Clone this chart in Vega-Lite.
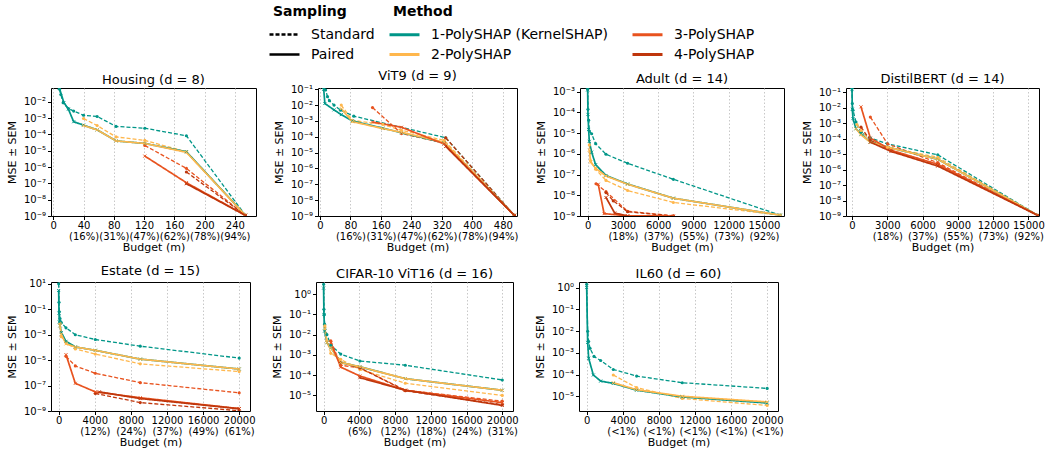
{
"$schema":"https://vega.github.io/schema/vega-lite/v6.json",
"padding":{"left":5,"top":5,"right":0,"bottom":0},
"data":{"values":[
{"p":"H","m":"1","s":"S","x":8,"y":0.06},{"p":"H","m":"1","s":"S","x":10,"y":0.028},{"p":"H","m":"1","s":"S","x":13,"y":0.0087},{"p":"H","m":"1","s":"S","x":20,"y":0.0039},{"p":"H","m":"1","s":"S","x":27,"y":0.0027},{"p":"H","m":"1","s":"S","x":40,"y":0.0015},{"p":"H","m":"1","s":"S","x":58,"y":0.00126},{"p":"H","m":"1","s":"S","x":83,"y":3.1e-4},{"p":"H","m":"1","s":"S","x":121,"y":2.4e-4},{"p":"H","m":"1","s":"S","x":176,"y":8.3e-5},{"p":"H","m":"1","s":"S","x":254,"y":1.1e-9},
{"p":"H","m":"1","s":"P","x":8,"y":0.07},{"p":"H","m":"1","s":"P","x":14,"y":0.009},{"p":"H","m":"1","s":"P","x":20,"y":0.0035},{"p":"H","m":"1","s":"P","x":27,"y":6e-4},{"p":"H","m":"1","s":"P","x":40,"y":3.7e-4},{"p":"H","m":"1","s":"P","x":58,"y":1.9e-4},{"p":"H","m":"1","s":"P","x":83,"y":4e-5},{"p":"H","m":"1","s":"P","x":121,"y":2.8e-5},{"p":"H","m":"1","s":"P","x":176,"y":8.7e-6},{"p":"H","m":"1","s":"P","x":254,"y":1.1e-9},
{"p":"H","m":"2","s":"S","x":40,"y":9.5e-4},{"p":"H","m":"2","s":"S","x":58,"y":3.5e-4},{"p":"H","m":"2","s":"S","x":83,"y":7e-5},{"p":"H","m":"2","s":"S","x":121,"y":4.3e-5},{"p":"H","m":"2","s":"S","x":176,"y":8.7e-6},{"p":"H","m":"2","s":"S","x":254,"y":1.1e-9},
{"p":"H","m":"2","s":"P","x":40,"y":3.5e-4},{"p":"H","m":"2","s":"P","x":58,"y":1.9e-4},{"p":"H","m":"2","s":"P","x":83,"y":4e-5},{"p":"H","m":"2","s":"P","x":121,"y":2.8e-5},{"p":"H","m":"2","s":"P","x":176,"y":8e-6},{"p":"H","m":"2","s":"P","x":254,"y":1.1e-9},
{"p":"H","m":"3","s":"S","x":121,"y":2.1e-5},{"p":"H","m":"3","s":"S","x":176,"y":8.3e-7},{"p":"H","m":"3","s":"S","x":254,"y":1.1e-9},
{"p":"H","m":"3","s":"P","x":121,"y":4.7e-6},{"p":"H","m":"3","s":"P","x":176,"y":1.1e-7},{"p":"H","m":"3","s":"P","x":254,"y":1.1e-9},
{"p":"H","m":"4","s":"S","x":176,"y":5e-7},{"p":"H","m":"4","s":"S","x":254,"y":1.1e-9},
{"p":"H","m":"4","s":"P","x":176,"y":9.5e-8},{"p":"H","m":"4","s":"P","x":254,"y":1.1e-9},

{"p":"V","m":"1","s":"S","x":10,"y":0.12},{"p":"V","m":"1","s":"S","x":15,"y":0.09},{"p":"V","m":"1","s":"S","x":20,"y":0.034},{"p":"V","m":"1","s":"S","x":25,"y":0.019},{"p":"V","m":"1","s":"S","x":37,"y":0.01},{"p":"V","m":"1","s":"S","x":54,"y":0.0048},{"p":"V","m":"1","s":"S","x":89,"y":0.002},{"p":"V","m":"1","s":"S","x":330,"y":8.7e-5},{"p":"V","m":"1","s":"S","x":510,"y":1.1e-9},
{"p":"V","m":"1","s":"P","x":10,"y":0.1},{"p":"V","m":"1","s":"P","x":13,"y":0.0126},{"p":"V","m":"1","s":"P","x":37,"y":0.005},{"p":"V","m":"1","s":"P","x":56,"y":0.0025},{"p":"V","m":"1","s":"P","x":85,"y":1.0e-3},{"p":"V","m":"1","s":"P","x":165,"y":3.5e-4},{"p":"V","m":"1","s":"P","x":214,"y":1.8e-4},{"p":"V","m":"1","s":"P","x":326,"y":4.2e-5},{"p":"V","m":"1","s":"P","x":510,"y":1.1e-9},
{"p":"V","m":"2","s":"S","x":56,"y":0.01},{"p":"V","m":"2","s":"S","x":85,"y":1.1e-3},{"p":"V","m":"2","s":"S","x":165,"y":6e-4},{"p":"V","m":"2","s":"S","x":214,"y":2.6e-4},{"p":"V","m":"2","s":"S","x":326,"y":5.9e-5},{"p":"V","m":"2","s":"S","x":510,"y":1.1e-9},
{"p":"V","m":"2","s":"P","x":56,"y":0.006},{"p":"V","m":"2","s":"P","x":85,"y":9e-4},{"p":"V","m":"2","s":"P","x":165,"y":3.3e-4},{"p":"V","m":"2","s":"P","x":214,"y":1.9e-4},{"p":"V","m":"2","s":"P","x":326,"y":4.5e-5},{"p":"V","m":"2","s":"P","x":510,"y":1.1e-9},
{"p":"V","m":"3","s":"S","x":138,"y":7e-3},{"p":"V","m":"3","s":"S","x":214,"y":1.6e-4},{"p":"V","m":"3","s":"S","x":326,"y":4e-5},{"p":"V","m":"3","s":"S","x":510,"y":1.1e-9},
{"p":"V","m":"3","s":"P","x":138,"y":8.5e-4},{"p":"V","m":"3","s":"P","x":214,"y":4e-4},{"p":"V","m":"3","s":"P","x":326,"y":3.5e-5},{"p":"V","m":"3","s":"P","x":510,"y":1.1e-9},
{"p":"V","m":"4","s":"S","x":330,"y":8.7e-5},{"p":"V","m":"4","s":"S","x":510,"y":1.1e-9},
{"p":"V","m":"4","s":"P","x":330,"y":2.5e-5},{"p":"V","m":"4","s":"P","x":510,"y":1.1e-9},

{"p":"A","m":"1","s":"S","x":0,"y":1.3e-3},{"p":"A","m":"1","s":"S","x":28,"y":1.4e-4},{"p":"A","m":"1","s":"S","x":85,"y":4.2e-5},{"p":"A","m":"1","s":"S","x":142,"y":1.25e-5},{"p":"A","m":"1","s":"S","x":340,"y":9.3e-6},{"p":"A","m":"1","s":"S","x":680,"y":3.1e-6},{"p":"A","m":"1","s":"S","x":1560,"y":9.5e-7},{"p":"A","m":"1","s":"S","x":3400,"y":3.5e-7},{"p":"A","m":"1","s":"S","x":7290,"y":5.9e-8},{"p":"A","m":"1","s":"S","x":16382,"y":1.1e-9},
{"p":"A","m":"1","s":"P","x":0,"y":1.2e-3},{"p":"A","m":"1","s":"P","x":28,"y":8e-5},{"p":"A","m":"1","s":"P","x":85,"y":1.5e-5},{"p":"A","m":"1","s":"P","x":142,"y":4e-6},{"p":"A","m":"1","s":"P","x":340,"y":1.2e-6},{"p":"A","m":"1","s":"P","x":680,"y":3e-7},{"p":"A","m":"1","s":"P","x":1560,"y":9e-8},{"p":"A","m":"1","s":"P","x":3400,"y":3.5e-8},{"p":"A","m":"1","s":"P","x":7290,"y":7.2e-9},{"p":"A","m":"1","s":"P","x":16382,"y":1.1e-9},
{"p":"A","m":"2","s":"S","x":142,"y":2.7e-6},{"p":"A","m":"2","s":"S","x":255,"y":4.6e-7},{"p":"A","m":"2","s":"S","x":680,"y":1.8e-7},{"p":"A","m":"2","s":"S","x":1560,"y":5.2e-8},{"p":"A","m":"2","s":"S","x":3400,"y":1.7e-8},{"p":"A","m":"2","s":"S","x":7290,"y":4.5e-9},{"p":"A","m":"2","s":"S","x":16382,"y":1.1e-9},
{"p":"A","m":"2","s":"P","x":142,"y":1.5e-6},{"p":"A","m":"2","s":"P","x":255,"y":4e-7},{"p":"A","m":"2","s":"P","x":680,"y":2e-7},{"p":"A","m":"2","s":"P","x":1560,"y":8.5e-8},{"p":"A","m":"2","s":"P","x":3400,"y":3.4e-8},{"p":"A","m":"2","s":"P","x":7290,"y":7.2e-9},{"p":"A","m":"2","s":"P","x":16382,"y":1.1e-9},
{"p":"A","m":"3","s":"S","x":710,"y":3.6e-8},{"p":"A","m":"3","s":"S","x":1560,"y":1.5e-8},{"p":"A","m":"3","s":"S","x":3400,"y":1.7e-9},{"p":"A","m":"3","s":"S","x":7290,"y":1.02e-9},
{"p":"A","m":"3","s":"P","x":900,"y":3.4e-8},{"p":"A","m":"3","s":"P","x":1400,"y":1.3e-9},{"p":"A","m":"3","s":"P","x":3400,"y":1.02e-9},{"p":"A","m":"3","s":"P","x":7290,"y":1.0e-9},
{"p":"A","m":"4","s":"S","x":1560,"y":1.35e-8},{"p":"A","m":"4","s":"S","x":2180,"y":5.4e-9},{"p":"A","m":"4","s":"S","x":3400,"y":1.6e-9},{"p":"A","m":"4","s":"S","x":7290,"y":1.0e-9},
{"p":"A","m":"4","s":"P","x":1560,"y":7.8e-9},{"p":"A","m":"4","s":"P","x":2300,"y":1.4e-9},{"p":"A","m":"4","s":"P","x":3400,"y":1.0e-9},

{"p":"B","m":"1","s":"S","x":0,"y":0.18},{"p":"B","m":"1","s":"S","x":28,"y":0.019},{"p":"B","m":"1","s":"S","x":85,"y":6.9e-3},{"p":"B","m":"1","s":"S","x":340,"y":1.2e-3},{"p":"B","m":"1","s":"S","x":765,"y":2.6e-4},{"p":"B","m":"1","s":"S","x":1560,"y":1.1e-4},{"p":"B","m":"1","s":"S","x":3030,"y":4.6e-5},{"p":"B","m":"1","s":"S","x":7290,"y":9.1e-6},{"p":"B","m":"1","s":"S","x":15800,"y":1.1e-9},
{"p":"B","m":"1","s":"P","x":0,"y":0.15},{"p":"B","m":"1","s":"P","x":28,"y":0.008},{"p":"B","m":"1","s":"P","x":85,"y":2e-3},{"p":"B","m":"1","s":"P","x":340,"y":4.4e-4},{"p":"B","m":"1","s":"P","x":765,"y":2e-4},{"p":"B","m":"1","s":"P","x":1560,"y":6e-5},{"p":"B","m":"1","s":"P","x":3320,"y":2.5e-5},{"p":"B","m":"1","s":"P","x":7290,"y":4.7e-6},{"p":"B","m":"1","s":"P","x":15800,"y":1.1e-9},
{"p":"B","m":"2","s":"S","x":425,"y":8.3e-4},{"p":"B","m":"2","s":"S","x":765,"y":3.4e-4},{"p":"B","m":"2","s":"S","x":1560,"y":7.4e-5},{"p":"B","m":"2","s":"S","x":3030,"y":2.8e-5},{"p":"B","m":"2","s":"S","x":7290,"y":6.3e-6},{"p":"B","m":"2","s":"S","x":15800,"y":1.1e-9},
{"p":"B","m":"2","s":"P","x":340,"y":4.4e-4},{"p":"B","m":"2","s":"P","x":765,"y":1.8e-4},{"p":"B","m":"2","s":"P","x":1560,"y":5.9e-5},{"p":"B","m":"2","s":"P","x":3320,"y":2.5e-5},{"p":"B","m":"2","s":"P","x":7290,"y":4.7e-6},{"p":"B","m":"2","s":"P","x":15800,"y":1.1e-9},
{"p":"B","m":"3","s":"S","x":1560,"y":2.5e-3},{"p":"B","m":"3","s":"S","x":3030,"y":4.6e-5},{"p":"B","m":"3","s":"S","x":7290,"y":2.8e-6},{"p":"B","m":"3","s":"S","x":15800,"y":1.1e-9},
{"p":"B","m":"3","s":"P","x":765,"y":0.0115},{"p":"B","m":"3","s":"P","x":1560,"y":1.1e-4},{"p":"B","m":"3","s":"P","x":3320,"y":1.8e-5},{"p":"B","m":"3","s":"P","x":7290,"y":2.2e-6},{"p":"B","m":"3","s":"P","x":15800,"y":1.1e-9},
{"p":"B","m":"4","s":"S","x":765,"y":5.6e-4},{"p":"B","m":"4","s":"S","x":1560,"y":8e-5},{"p":"B","m":"4","s":"S","x":3320,"y":1.7e-5},{"p":"B","m":"4","s":"S","x":7290,"y":2.2e-6},{"p":"B","m":"4","s":"S","x":15800,"y":1.1e-9},
{"p":"B","m":"4","s":"P","x":1560,"y":6e-5},{"p":"B","m":"4","s":"P","x":3320,"y":1.5e-5},{"p":"B","m":"4","s":"P","x":7290,"y":1.7e-6},{"p":"B","m":"4","s":"P","x":15800,"y":1.1e-9},

{"p":"E","m":"1","s":"S","x":0,"y":10},{"p":"E","m":"1","s":"S","x":37,"y":0.35},{"p":"E","m":"1","s":"S","x":74,"y":0.063},{"p":"E","m":"1","s":"S","x":148,"y":0.019},{"p":"E","m":"1","s":"S","x":295,"y":8.9e-3},{"p":"E","m":"1","s":"S","x":810,"y":3.5e-3},{"p":"E","m":"1","s":"S","x":1845,"y":1e-3},{"p":"E","m":"1","s":"S","x":4060,"y":4.2e-4},{"p":"E","m":"1","s":"S","x":9040,"y":1.25e-4},{"p":"E","m":"1","s":"S","x":20000,"y":1.45e-5},
{"p":"E","m":"1","s":"P","x":0,"y":3},{"p":"E","m":"1","s":"P","x":37,"y":0.05},{"p":"E","m":"1","s":"P","x":74,"y":0.01},{"p":"E","m":"1","s":"P","x":148,"y":5e-3},{"p":"E","m":"1","s":"P","x":295,"y":1.5e-3},{"p":"E","m":"1","s":"P","x":810,"y":3e-4},{"p":"E","m":"1","s":"P","x":1845,"y":1.1e-4},{"p":"E","m":"1","s":"P","x":4060,"y":5.9e-5},{"p":"E","m":"1","s":"P","x":9040,"y":1.2e-5},{"p":"E","m":"1","s":"P","x":20000,"y":2e-6},
{"p":"E","m":"2","s":"S","x":148,"y":7.9e-3},{"p":"E","m":"2","s":"S","x":295,"y":6.9e-4},{"p":"E","m":"2","s":"S","x":810,"y":2.6e-4},{"p":"E","m":"2","s":"S","x":1845,"y":7.6e-5},{"p":"E","m":"2","s":"S","x":4060,"y":3e-5},{"p":"E","m":"2","s":"S","x":9040,"y":5.1e-6},{"p":"E","m":"2","s":"S","x":20000,"y":1.26e-6},
{"p":"E","m":"2","s":"P","x":148,"y":5e-3},{"p":"E","m":"2","s":"P","x":295,"y":1e-3},{"p":"E","m":"2","s":"P","x":810,"y":1.9e-4},{"p":"E","m":"2","s":"P","x":1845,"y":1.1e-4},{"p":"E","m":"2","s":"P","x":4060,"y":5.9e-5},{"p":"E","m":"2","s":"P","x":9040,"y":1.2e-5},{"p":"E","m":"2","s":"P","x":20000,"y":2e-6},
{"p":"E","m":"3","s":"S","x":810,"y":2e-5},{"p":"E","m":"3","s":"S","x":1845,"y":3.5e-6},{"p":"E","m":"3","s":"S","x":4060,"y":9.3e-7},{"p":"E","m":"3","s":"S","x":9040,"y":1.7e-7},{"p":"E","m":"3","s":"S","x":20000,"y":2.7e-8},
{"p":"E","m":"3","s":"P","x":810,"y":2.7e-5},{"p":"E","m":"3","s":"P","x":1845,"y":1.5e-7},{"p":"E","m":"3","s":"P","x":4060,"y":3.2e-8},{"p":"E","m":"3","s":"P","x":9040,"y":1.1e-8},{"p":"E","m":"3","s":"P","x":20000,"y":1.55e-9},
{"p":"E","m":"4","s":"S","x":4060,"y":2.4e-8},{"p":"E","m":"4","s":"S","x":9040,"y":4.6e-9},{"p":"E","m":"4","s":"S","x":20000,"y":1.05e-9},
{"p":"E","m":"4","s":"P","x":4500,"y":3.2e-8},{"p":"E","m":"4","s":"P","x":9040,"y":9.5e-9},{"p":"E","m":"4","s":"P","x":20000,"y":1.5e-9},

{"p":"C","m":"1","s":"S","x":0,"y":3.1},{"p":"C","m":"1","s":"S","x":37,"y":0.18},{"p":"C","m":"1","s":"S","x":74,"y":0.1},{"p":"C","m":"1","s":"S","x":110,"y":0.033},{"p":"C","m":"1","s":"S","x":370,"y":0.01},{"p":"C","m":"1","s":"S","x":810,"y":3e-3},{"p":"C","m":"1","s":"S","x":1920,"y":1.1e-3},{"p":"C","m":"1","s":"S","x":4060,"y":5e-4},{"p":"C","m":"1","s":"S","x":9150,"y":3.1e-4},{"p":"C","m":"1","s":"S","x":20000,"y":5.8e-5},
{"p":"C","m":"1","s":"P","x":0,"y":2},{"p":"C","m":"1","s":"P","x":37,"y":0.1},{"p":"C","m":"1","s":"P","x":110,"y":0.015},{"p":"C","m":"1","s":"P","x":370,"y":4e-3},{"p":"C","m":"1","s":"P","x":810,"y":2.3e-3},{"p":"C","m":"1","s":"P","x":1920,"y":4.2e-4},{"p":"C","m":"1","s":"P","x":4060,"y":2.6e-4},{"p":"C","m":"1","s":"P","x":9150,"y":6.7e-5},{"p":"C","m":"1","s":"P","x":20000,"y":1.8e-5},
{"p":"C","m":"2","s":"S","x":148,"y":0.027},{"p":"C","m":"2","s":"S","x":370,"y":4.9e-3},{"p":"C","m":"2","s":"S","x":810,"y":1.2e-3},{"p":"C","m":"2","s":"S","x":1920,"y":6e-4},{"p":"C","m":"2","s":"S","x":4060,"y":1.9e-4},{"p":"C","m":"2","s":"S","x":9150,"y":4e-5},{"p":"C","m":"2","s":"S","x":20000,"y":1e-5},
{"p":"C","m":"2","s":"P","x":148,"y":0.02},{"p":"C","m":"2","s":"P","x":370,"y":4e-3},{"p":"C","m":"2","s":"P","x":810,"y":2.3e-3},{"p":"C","m":"2","s":"P","x":1920,"y":4.2e-4},{"p":"C","m":"2","s":"P","x":4060,"y":2.6e-4},{"p":"C","m":"2","s":"P","x":9150,"y":6.7e-5},{"p":"C","m":"2","s":"P","x":20000,"y":1.8e-5},
{"p":"C","m":"3","s":"S","x":810,"y":4.9e-3},{"p":"C","m":"3","s":"S","x":1920,"y":3.1e-4},{"p":"C","m":"3","s":"S","x":4060,"y":2.3e-4},{"p":"C","m":"3","s":"S","x":9150,"y":1.8e-5},{"p":"C","m":"3","s":"S","x":20000,"y":5.2e-6},
{"p":"C","m":"3","s":"P","x":810,"y":4e-3},{"p":"C","m":"3","s":"P","x":1920,"y":2.5e-4},{"p":"C","m":"3","s":"P","x":4060,"y":9.1e-5},{"p":"C","m":"3","s":"P","x":9150,"y":1.8e-5},{"p":"C","m":"3","s":"P","x":20000,"y":4.4e-6},
{"p":"C","m":"4","s":"S","x":1920,"y":4.2e-4},{"p":"C","m":"4","s":"S","x":4060,"y":2.3e-4},{"p":"C","m":"4","s":"S","x":9150,"y":1.7e-5},{"p":"C","m":"4","s":"S","x":20000,"y":3.5e-6},
{"p":"C","m":"4","s":"P","x":4060,"y":7.5e-5},{"p":"C","m":"4","s":"P","x":9150,"y":1.8e-5},{"p":"C","m":"4","s":"P","x":20000,"y":3.2e-6},

{"p":"I","m":"1","s":"S","x":0,"y":1.4},{"p":"I","m":"1","s":"S","x":110,"y":9.8e-3},{"p":"I","m":"1","s":"S","x":220,"y":3.3e-3},{"p":"I","m":"1","s":"S","x":370,"y":1.6e-3},{"p":"I","m":"1","s":"S","x":810,"y":6.8e-4},{"p":"I","m":"1","s":"S","x":1550,"y":4.4e-4},{"p":"I","m":"1","s":"S","x":2950,"y":1.7e-4},{"p":"I","m":"1","s":"S","x":5535,"y":8.5e-5},{"p":"I","m":"1","s":"S","x":10590,"y":4.2e-5},{"p":"I","m":"1","s":"S","x":20000,"y":2.3e-5},
{"p":"I","m":"1","s":"P","x":0,"y":1},{"p":"I","m":"1","s":"P","x":110,"y":3e-3},{"p":"I","m":"1","s":"P","x":220,"y":5.6e-4},{"p":"I","m":"1","s":"P","x":740,"y":9.5e-5},{"p":"I","m":"1","s":"P","x":1550,"y":5e-5},{"p":"I","m":"1","s":"P","x":2950,"y":3.9e-5},{"p":"I","m":"1","s":"P","x":5535,"y":1.9e-5},{"p":"I","m":"1","s":"P","x":10590,"y":9.3e-6},{"p":"I","m":"1","s":"P","x":20000,"y":4.9e-6},
{"p":"I","m":"2","s":"S","x":2950,"y":9.5e-5},{"p":"I","m":"2","s":"S","x":5535,"y":2.5e-5},{"p":"I","m":"2","s":"S","x":10590,"y":7.9e-6},{"p":"I","m":"2","s":"S","x":20000,"y":3.8e-6},
{"p":"I","m":"2","s":"P","x":2950,"y":4.2e-5},{"p":"I","m":"2","s":"P","x":5535,"y":2e-5},{"p":"I","m":"2","s":"P","x":10590,"y":1e-5},{"p":"I","m":"2","s":"P","x":20000,"y":5.5e-6}
]},
"config":{
"font":"DejaVu Sans",
"view":{"stroke":"#000","strokeWidth":1},
"axis":{"domain":false,"labelFontSize":10,"titleFontSize":11,"labelColor":"#000","titleColor":"#000","tickColor":"#000","tickSize":3.5,"titleFontWeight":"normal","labelOverlap":false,"labelBound":false},
"axisX":{"grid":true,"gridDash":[1.5,2],"gridColor":"#c8c8c8","labelLineHeight":11,"labelPadding":1,"titlePadding":0,"labelFlush":false},
"axisY":{"grid":false,"labelPadding":2,"titlePadding":6},
"title":{"fontSize":13,"fontWeight":"normal","offset":1,"color":"#000","anchor":"middle"},
"legend":{"labelFontSize":14,"titleFontSize":14,"titleFontWeight":"bold","labelColor":"#000","titleColor":"#000","symbolType":"M-1.5,0L1.5,0","symbolSize":400,"symbolStrokeWidth":3,"labelOffset":15,"rowPadding":1,"columnPadding":18,"titlePadding":4,"labelLimit":300,"titleAnchor":"start"}
},
"resolve":{"scale":{"x":"independent","y":"independent"}},
"spacing":11,
"vconcat":[
{"hconcat":[
{"width":205,"height":128,"title":"Housing (d = 8)","transform":[{"filter":"datum.p=='H'"}],
"encoding":{
"x":{"field":"x","type":"quantitative","scale":{"domain":[-3,268],"nice":false,"zero":false},"axis":{"values":[0,40,80,120,160,200,240],"format":"d","labelExpr":"datum.value==0?'0':[datum.label,['','(16%)','(31%)','(47%)','(62%)','(78%)','(94%)'][datum.value/40]]","title":"Budget (m)"}},
"y":{"field":"y","type":"quantitative","scale":{"type":"log","domain":[1e-9,0.07],"nice":false},"axis":{"values":[1e-9,1e-8,1e-7,1e-6,1e-5,1e-4,1e-3,1e-2],"labelExpr":"'10'+['⁻⁹','⁻⁸','⁻⁷','⁻⁶','⁻⁵','⁻⁴','⁻³','⁻²','⁻¹','⁰','¹'][round(log(datum.value)/LN10)+9]","title":"MSE ± SEM"}},
"color":{"field":"m","type":"nominal","scale":{"domain":["1","3","2","4"],"range":["#009688","#e8531f","#ffb74d","#bf360c"]},"legend":{"title":"Method","columns":2,"direction":"horizontal","orient":"none","legendX":342,"legendY":-83,"symbolType":"M-1.5,0L1.5,0","labelExpr":"datum.label=='1'?'1-PolySHAP (KernelSHAP)':datum.label+'-PolySHAP'"}}},
"layer":[
{"transform":[{"filter":"datum.s=='S'"}],"mark":{"type":"line","clip":true,"strokeWidth":1.3},"encoding":{"strokeDash":{"field":"s","type":"nominal","scale":{"domain":["S","P"],"range":[[4,2],[1,0]]},"legend":{"title":"Sampling","orient":"none","legendX":222,"legendY":-83,"direction":"vertical","symbolType":"M-1.5,0L1.5,0","symbolStrokeColor":"#000","symbolStrokeWidth":2.5,"labelExpr":"datum.label=='S'?'Standard':'Paired'"}}}},
{"transform":[{"filter":"datum.s=='P'"}],"mark":{"type":"line","clip":true,"strokeWidth":1.7},"encoding":{"strokeDash":{"field":"s","type":"nominal","scale":{"domain":["S","P"],"range":[[4,2],[1,0]]}}}},
{"transform":[{"filter":"datum.s=='S'"}],"mark":{"type":"point","shape":"circle","filled":true,"size":10,"clip":true,"opacity":1}},
{"transform":[{"filter":"datum.s=='P'"}],"mark":{"type":"point","shape":"M-1,-1L1,1M-1,1L1,-1","filled":false,"size":9,"strokeWidth":1,"clip":true,"opacity":1}}
]},
{"width":199,"height":128,"title":"ViT9 (d = 9)","transform":[{"filter":"datum.p=='V'"}],
"encoding":{
"x":{"field":"x","type":"quantitative","scale":{"domain":[-5,517],"nice":false,"zero":false},"axis":{"values":[0,80,160,240,320,400,480],"format":"d","labelExpr":"datum.value==0?'0':[datum.label,['','(16%)','(31%)','(47%)','(62%)','(78%)','(94%)'][datum.value/80]]","title":"Budget (m)"}},
"y":{"field":"y","type":"quantitative","scale":{"type":"log","domain":[1e-9,0.12],"nice":false},"axis":{"values":[1e-9,1e-8,1e-7,1e-6,1e-5,1e-4,1e-3,1e-2,1e-1],"labelExpr":"'10'+['⁻⁹','⁻⁸','⁻⁷','⁻⁶','⁻⁵','⁻⁴','⁻³','⁻²','⁻¹','⁰','¹'][round(log(datum.value)/LN10)+9]","title":"MSE ± SEM"}},
"color":{"field":"m","type":"nominal","scale":{"domain":["1","3","2","4"],"range":["#009688","#e8531f","#ffb74d","#bf360c"]},"legend":{"title":"Method","columns":2,"direction":"horizontal","orient":"none","legendX":342,"legendY":-83,"symbolType":"M-1.5,0L1.5,0","labelExpr":"datum.label=='1'?'1-PolySHAP (KernelSHAP)':datum.label+'-PolySHAP'"}}},
"layer":[
{"transform":[{"filter":"datum.s=='S'"}],"mark":{"type":"line","clip":true,"strokeWidth":1.3},"encoding":{"strokeDash":{"field":"s","type":"nominal","scale":{"domain":["S","P"],"range":[[4,2],[1,0]]},"legend":{"title":"Sampling","orient":"none","legendX":222,"legendY":-83,"direction":"vertical","symbolType":"M-1.5,0L1.5,0","symbolStrokeColor":"#000","symbolStrokeWidth":2.5,"labelExpr":"datum.label=='S'?'Standard':'Paired'"}}}},
{"transform":[{"filter":"datum.s=='P'"}],"mark":{"type":"line","clip":true,"strokeWidth":1.7},"encoding":{"strokeDash":{"field":"s","type":"nominal","scale":{"domain":["S","P"],"range":[[4,2],[1,0]]}}}},
{"transform":[{"filter":"datum.s=='S'"}],"mark":{"type":"point","shape":"circle","filled":true,"size":10,"clip":true,"opacity":1}},
{"transform":[{"filter":"datum.s=='P'"}],"mark":{"type":"point","shape":"M-1,-1L1,1M-1,1L1,-1","filled":false,"size":9,"strokeWidth":1,"clip":true,"opacity":1}}
]},
{"width":204,"height":128,"title":"Adult (d = 14)","transform":[{"filter":"datum.p=='A'"}],
"encoding":{
"x":{"field":"x","type":"quantitative","scale":{"domain":[-650,16700],"nice":false,"zero":false},"axis":{"values":[0,3000,6000,9000,12000,15000],"format":"d","labelExpr":"datum.value==0?'0':[datum.label,['','(18%)','(37%)','(55%)','(73%)','(92%)'][datum.value/3000]]","title":"Budget (m)"}},
"y":{"field":"y","type":"quantitative","scale":{"type":"log","domain":[1e-9,1.5e-3],"nice":false},"axis":{"values":[1e-9,1e-8,1e-7,1e-6,1e-5,1e-4,1e-3],"labelExpr":"'10'+['⁻⁹','⁻⁸','⁻⁷','⁻⁶','⁻⁵','⁻⁴','⁻³','⁻²','⁻¹','⁰','¹'][round(log(datum.value)/LN10)+9]","title":"MSE ± SEM"}},
"color":{"field":"m","type":"nominal","scale":{"domain":["1","3","2","4"],"range":["#009688","#e8531f","#ffb74d","#bf360c"]},"legend":{"title":"Method","columns":2,"direction":"horizontal","orient":"none","legendX":342,"legendY":-83,"symbolType":"M-1.5,0L1.5,0","labelExpr":"datum.label=='1'?'1-PolySHAP (KernelSHAP)':datum.label+'-PolySHAP'"}}},
"layer":[
{"transform":[{"filter":"datum.s=='S'"}],"mark":{"type":"line","clip":true,"strokeWidth":1.3},"encoding":{"strokeDash":{"field":"s","type":"nominal","scale":{"domain":["S","P"],"range":[[4,2],[1,0]]},"legend":{"title":"Sampling","orient":"none","legendX":222,"legendY":-83,"direction":"vertical","symbolType":"M-1.5,0L1.5,0","symbolStrokeColor":"#000","symbolStrokeWidth":2.5,"labelExpr":"datum.label=='S'?'Standard':'Paired'"}}}},
{"transform":[{"filter":"datum.s=='P'"}],"mark":{"type":"line","clip":true,"strokeWidth":1.7},"encoding":{"strokeDash":{"field":"s","type":"nominal","scale":{"domain":["S","P"],"range":[[4,2],[1,0]]}}}},
{"transform":[{"filter":"datum.s=='S'"}],"mark":{"type":"point","shape":"circle","filled":true,"size":10,"clip":true,"opacity":1}},
{"transform":[{"filter":"datum.s=='P'"}],"mark":{"type":"point","shape":"M-1,-1L1,1M-1,1L1,-1","filled":false,"size":9,"strokeWidth":1,"clip":true,"opacity":1}}
]},
{"width":193,"height":128,"title":"DistilBERT (d = 14)","transform":[{"filter":"datum.p=='B'"}],
"encoding":{
"x":{"field":"x","type":"quantitative","scale":{"domain":[-510,15900],"nice":false,"zero":false},"axis":{"values":[0,3000,6000,9000,12000,15000],"format":"d","labelExpr":"datum.value==0?'0':[datum.label,['','(18%)','(37%)','(55%)','(73%)','(92%)'][datum.value/3000]]","title":"Budget (m)"}},
"y":{"field":"y","type":"quantitative","scale":{"type":"log","domain":[1e-9,0.19],"nice":false},"axis":{"values":[1e-9,1e-8,1e-7,1e-6,1e-5,1e-4,1e-3,1e-2,1e-1],"labelExpr":"'10'+['⁻⁹','⁻⁸','⁻⁷','⁻⁶','⁻⁵','⁻⁴','⁻³','⁻²','⁻¹','⁰','¹'][round(log(datum.value)/LN10)+9]","title":"MSE ± SEM"}},
"color":{"field":"m","type":"nominal","scale":{"domain":["1","3","2","4"],"range":["#009688","#e8531f","#ffb74d","#bf360c"]},"legend":{"title":"Method","columns":2,"direction":"horizontal","orient":"none","legendX":342,"legendY":-83,"symbolType":"M-1.5,0L1.5,0","labelExpr":"datum.label=='1'?'1-PolySHAP (KernelSHAP)':datum.label+'-PolySHAP'"}}},
"layer":[
{"transform":[{"filter":"datum.s=='S'"}],"mark":{"type":"line","clip":true,"strokeWidth":1.3},"encoding":{"strokeDash":{"field":"s","type":"nominal","scale":{"domain":["S","P"],"range":[[4,2],[1,0]]},"legend":{"title":"Sampling","orient":"none","legendX":222,"legendY":-83,"direction":"vertical","symbolType":"M-1.5,0L1.5,0","symbolStrokeColor":"#000","symbolStrokeWidth":2.5,"labelExpr":"datum.label=='S'?'Standard':'Paired'"}}}},
{"transform":[{"filter":"datum.s=='P'"}],"mark":{"type":"line","clip":true,"strokeWidth":1.7},"encoding":{"strokeDash":{"field":"s","type":"nominal","scale":{"domain":["S","P"],"range":[[4,2],[1,0]]}}}},
{"transform":[{"filter":"datum.s=='S'"}],"mark":{"type":"point","shape":"circle","filled":true,"size":10,"clip":true,"opacity":1}},
{"transform":[{"filter":"datum.s=='P'"}],"mark":{"type":"point","shape":"M-1,-1L1,1M-1,1L1,-1","filled":false,"size":9,"strokeWidth":1,"clip":true,"opacity":1}}
]}
],"spacing":15,"resolve":{"scale":{"x":"independent","y":"independent"}}},
{"hconcat":[
{"width":199,"height":129,"title":"Estate (d = 15)","transform":[{"filter":"datum.p=='E'"}],
"encoding":{
"x":{"field":"x","type":"quantitative","scale":{"domain":[-850,21200],"nice":false,"zero":false},"axis":{"values":[0,4000,8000,12000,16000,20000],"format":"d","labelExpr":"datum.value==0?'0':[datum.label,['','(12%)','(24%)','(37%)','(49%)','(61%)'][datum.value/4000]]","title":"Budget (m)"}},
"y":{"field":"y","type":"quantitative","scale":{"type":"log","domain":[1e-9,14],"nice":false},"axis":{"values":[1e-9,1e-7,1e-5,1e-3,1e-1,10],"labelExpr":"'10'+['⁻⁹','⁻⁸','⁻⁷','⁻⁶','⁻⁵','⁻⁴','⁻³','⁻²','⁻¹','⁰','¹'][round(log(datum.value)/LN10)+9]","title":"MSE ± SEM"}},
"color":{"field":"m","type":"nominal","scale":{"domain":["1","3","2","4"],"range":["#009688","#e8531f","#ffb74d","#bf360c"]},"legend":{"title":"Method","columns":2,"direction":"horizontal","orient":"none","legendX":342,"legendY":-83,"symbolType":"M-1.5,0L1.5,0","labelExpr":"datum.label=='1'?'1-PolySHAP (KernelSHAP)':datum.label+'-PolySHAP'"}}},
"layer":[
{"transform":[{"filter":"datum.s=='S'"}],"mark":{"type":"line","clip":true,"strokeWidth":1.3},"encoding":{"strokeDash":{"field":"s","type":"nominal","scale":{"domain":["S","P"],"range":[[4,2],[1,0]]},"legend":{"title":"Sampling","orient":"none","legendX":222,"legendY":-83,"direction":"vertical","symbolType":"M-1.5,0L1.5,0","symbolStrokeColor":"#000","symbolStrokeWidth":2.5,"labelExpr":"datum.label=='S'?'Standard':'Paired'"}}}},
{"transform":[{"filter":"datum.s=='P'"}],"mark":{"type":"line","clip":true,"strokeWidth":1.7},"encoding":{"strokeDash":{"field":"s","type":"nominal","scale":{"domain":["S","P"],"range":[[4,2],[1,0]]}}}},
{"transform":[{"filter":"datum.s=='S'"}],"mark":{"type":"point","shape":"circle","filled":true,"size":10,"clip":true,"opacity":1}},
{"transform":[{"filter":"datum.s=='P'"}],"mark":{"type":"point","shape":"M-1,-1L1,1M-1,1L1,-1","filled":false,"size":9,"strokeWidth":1,"clip":true,"opacity":1}}
]},
{"width":197,"height":129,"title":"CIFAR-10 ViT16 (d = 16)","transform":[{"filter":"datum.p=='C'"}],
"encoding":{
"x":{"field":"x","type":"quantitative","scale":{"domain":[-850,21200],"nice":false,"zero":false},"axis":{"values":[0,4000,8000,12000,16000,20000],"format":"d","labelExpr":"datum.value==0?'0':[datum.label,['','(6%)','(12%)','(18%)','(24%)','(31%)'][datum.value/4000]]","title":"Budget (m)"}},
"y":{"field":"y","type":"quantitative","scale":{"type":"log","domain":[1.7e-6,4],"nice":false},"axis":{"values":[1e-5,1e-4,1e-3,1e-2,1e-1,1],"labelExpr":"'10'+['⁻⁹','⁻⁸','⁻⁷','⁻⁶','⁻⁵','⁻⁴','⁻³','⁻²','⁻¹','⁰','¹'][round(log(datum.value)/LN10)+9]","title":"MSE ± SEM"}},
"color":{"field":"m","type":"nominal","scale":{"domain":["1","3","2","4"],"range":["#009688","#e8531f","#ffb74d","#bf360c"]},"legend":{"title":"Method","columns":2,"direction":"horizontal","orient":"none","legendX":342,"legendY":-83,"symbolType":"M-1.5,0L1.5,0","labelExpr":"datum.label=='1'?'1-PolySHAP (KernelSHAP)':datum.label+'-PolySHAP'"}}},
"layer":[
{"transform":[{"filter":"datum.s=='S'"}],"mark":{"type":"line","clip":true,"strokeWidth":1.3},"encoding":{"strokeDash":{"field":"s","type":"nominal","scale":{"domain":["S","P"],"range":[[4,2],[1,0]]},"legend":{"title":"Sampling","orient":"none","legendX":222,"legendY":-83,"direction":"vertical","symbolType":"M-1.5,0L1.5,0","symbolStrokeColor":"#000","symbolStrokeWidth":2.5,"labelExpr":"datum.label=='S'?'Standard':'Paired'"}}}},
{"transform":[{"filter":"datum.s=='P'"}],"mark":{"type":"line","clip":true,"strokeWidth":1.7},"encoding":{"strokeDash":{"field":"s","type":"nominal","scale":{"domain":["S","P"],"range":[[4,2],[1,0]]}}}},
{"transform":[{"filter":"datum.s=='S'"}],"mark":{"type":"point","shape":"circle","filled":true,"size":10,"clip":true,"opacity":1}},
{"transform":[{"filter":"datum.s=='P'"}],"mark":{"type":"point","shape":"M-1,-1L1,1M-1,1L1,-1","filled":false,"size":9,"strokeWidth":1,"clip":true,"opacity":1}}
]},
{"width":199,"height":129,"title":"IL60 (d = 60)","transform":[{"filter":"datum.p=='I'"}],
"encoding":{
"x":{"field":"x","type":"quantitative","scale":{"domain":[-850,21200],"nice":false,"zero":false},"axis":{"values":[0,4000,8000,12000,16000,20000],"format":"d","labelExpr":"datum.value==0?'0':[datum.label,'(<1%)']","title":"Budget (m)"}},
"y":{"field":"y","type":"quantitative","scale":{"type":"log","domain":[2.1e-6,1.8],"nice":false},"axis":{"values":[1e-5,1e-4,1e-3,1e-2,1e-1,1],"labelExpr":"'10'+['⁻⁹','⁻⁸','⁻⁷','⁻⁶','⁻⁵','⁻⁴','⁻³','⁻²','⁻¹','⁰','¹'][round(log(datum.value)/LN10)+9]","title":"MSE ± SEM"}},
"color":{"field":"m","type":"nominal","scale":{"domain":["1","3","2","4"],"range":["#009688","#e8531f","#ffb74d","#bf360c"]},"legend":{"title":"Method","columns":2,"direction":"horizontal","orient":"none","legendX":342,"legendY":-83,"symbolType":"M-1.5,0L1.5,0","labelExpr":"datum.label=='1'?'1-PolySHAP (KernelSHAP)':datum.label+'-PolySHAP'"}}},
"layer":[
{"transform":[{"filter":"datum.s=='S'"}],"mark":{"type":"line","clip":true,"strokeWidth":1.3},"encoding":{"strokeDash":{"field":"s","type":"nominal","scale":{"domain":["S","P"],"range":[[4,2],[1,0]]},"legend":{"title":"Sampling","orient":"none","legendX":222,"legendY":-83,"direction":"vertical","symbolType":"M-1.5,0L1.5,0","symbolStrokeColor":"#000","symbolStrokeWidth":2.5,"labelExpr":"datum.label=='S'?'Standard':'Paired'"}}}},
{"transform":[{"filter":"datum.s=='P'"}],"mark":{"type":"line","clip":true,"strokeWidth":1.7},"encoding":{"strokeDash":{"field":"s","type":"nominal","scale":{"domain":["S","P"],"range":[[4,2],[1,0]]}}}},
{"transform":[{"filter":"datum.s=='S'"}],"mark":{"type":"point","shape":"circle","filled":true,"size":10,"clip":true,"opacity":1}},
{"transform":[{"filter":"datum.s=='P'"}],"mark":{"type":"point","shape":"M-1,-1L1,1M-1,1L1,-1","filled":false,"size":9,"strokeWidth":1,"clip":true,"opacity":1}}
]}
],"spacing":14,"resolve":{"scale":{"x":"independent","y":"independent"}}}
]
}
